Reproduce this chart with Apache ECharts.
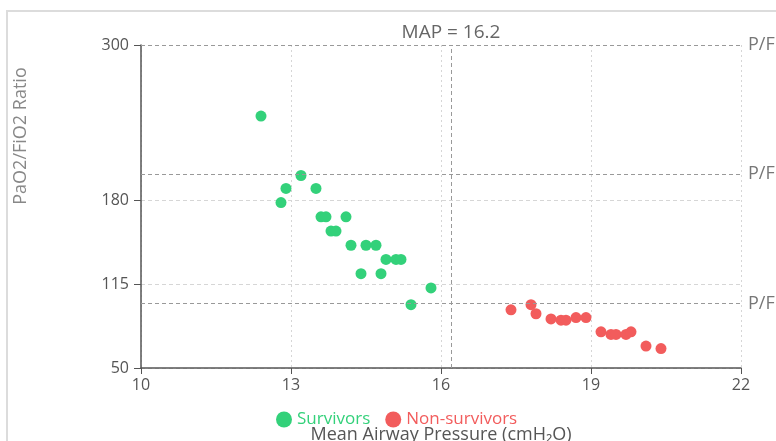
<!DOCTYPE html>
<html>
<head>
<meta charset="utf-8">
<script src="https://cdn.jsdelivr.net/npm/echarts@6/dist/echarts.min.js"></script>
<style>
  html, body { margin: 0; padding: 0; background: #fff; }
  #chart { width: 776px; height: 441px; }
</style>
</head>
<body>
<div id="chart"></div>
<script>
// Axis ticks
const xTicks = [10, 13, 16, 19, 22];
const yTicks = [50, 115, 180, 300];

// Survivors: mean airway pressure (cmH2O) and PaO2/FiO2
const survivorsMAP = [12.4, 13.2, 12.9, 13.5, 12.8, 13.6, 13.7, 14.1, 13.8, 13.9, 14.2, 14.5, 14.7, 14.9, 15.1, 15.2, 14.4, 14.8, 15.8, 15.4];
const survivorsPF  = [245, 199, 189, 189, 178, 167, 167, 167, 156, 156, 145, 145, 145, 134, 134, 134, 123, 123, 112, 99];

// Non-survivors
const nonSurvivorsMAP = [17.4, 17.8, 17.9, 18.2, 18.4, 18.5, 18.7, 18.9, 19.2, 19.4, 19.5, 19.7, 19.8, 20.1, 20.4];
const nonSurvivorsPF  = [95, 99, 92, 88, 87, 87, 89, 89, 78, 76, 76, 76, 78, 67, 65];

// Reference lines
const pfThresholds = [300, 200, 100];
const mapThreshold = 16.2;

const seriesNames = ['Survivors', 'Non-survivors'];
const seriesColors = ['#33d17a', '#f25c5c'];

const zip = (xs, ys) => xs.map((x, i) => [x, ys[i]]);

const FONT = '"Open Sans", "Noto Sans", sans-serif';

const chart = echarts.init(document.getElementById('chart'), null, { renderer: 'canvas' });

chart.setOption({
  animation: false,
  textStyle: { fontFamily: FONT },
  grid: { left: 141, right: 35, top: 45, bottom: 73, containLabel: false, outerBoundsMode: 'none' },
  graphic: [
    {
      type: 'rect',
      z: -10,
      silent: true,
      shape: { x: 7, y: 11, width: 820, height: 480 },
      style: { fill: 'none', stroke: '#dcdcdc', lineWidth: 2 }
    },
    {
      type: 'text',
      x: 21,
      y: 136,
      rotation: Math.PI / 2,
      silent: true,
      style: {
        text: 'PaO2/FiO2 Ratio',
        fill: '#888',
        font: '18px ' + FONT,
        align: 'center',
        verticalAlign: 'middle'
      }
    }
  ],
  legend: {
    left: 271,
    top: 406,
    icon: 'circle',
    itemWidth: 16,
    itemHeight: 16,
    itemGap: 15,
    textStyle: { fontSize: 17, fontFamily: FONT },
    data: seriesNames.map((n, i) => ({ name: n, textStyle: { color: seriesColors[i] } }))
  },
  xAxis: {
    type: 'value',
    min: xTicks[0],
    max: xTicks[xTicks.length - 1],
    interval: 3,
    name: 'Mean Airway Pressure (cmH\u2082O)',
    nameLocation: 'middle',
    nameGap: 58,
    nameTextStyle: { color: '#555', fontSize: 18, fontFamily: FONT },
    axisLine: { show: true, lineStyle: { color: '#555', width: 1.5 } },
    axisTick: { show: true, length: 6, lineStyle: { color: '#555' } },
    axisLabel: { color: '#555', fontSize: 16, margin: 9 },
    splitLine: { show: true, lineStyle: { color: '#d6d6d6', type: [2, 3], width: 1 } }
  },
  yAxis: {
    type: 'value',
    min: 50,
    max: 300,
    axisLine: { show: true, lineStyle: { color: '#555', width: 1.5 } },
    axisTick: { show: true, length: 7, customValues: yTicks, lineStyle: { color: '#555' } },
    axisLabel: { color: '#555', fontSize: 16, margin: 12, customValues: yTicks },
    splitLine: { show: true, lineStyle: { color: '#d6d6d6', type: [4, 3], width: 1 } }
  },
  series: [
    {
      name: seriesNames[0],
      type: 'scatter',
      symbolSize: 11,
      itemStyle: { color: seriesColors[0], opacity: 1 },
      data: zip(survivorsMAP, survivorsPF),
      markLine: {
        silent: true,
        symbol: 'none',
        lineStyle: { color: '#999', type: [4, 3], width: 1 },
        label: {
          show: true,
          position: 'end',
          formatter: 'P/F',
          color: '#777',
          fontSize: 18,
          fontFamily: FONT,
          distance: 7
        },
        data: pfThresholds.map(v => ({ yAxis: v })).concat([
          {
            xAxis: mapThreshold,
            label: {
              position: 'end',
              formatter: 'MAP = ' + mapThreshold,
              color: '#666',
              fontSize: 19,
              distance: 3
            }
          }
        ])
      }
    },
    {
      name: seriesNames[1],
      type: 'scatter',
      symbolSize: 11,
      itemStyle: { color: seriesColors[1], opacity: 1 },
      data: zip(nonSurvivorsMAP, nonSurvivorsPF)
    }
  ]
});
</script>
</body>
</html>
